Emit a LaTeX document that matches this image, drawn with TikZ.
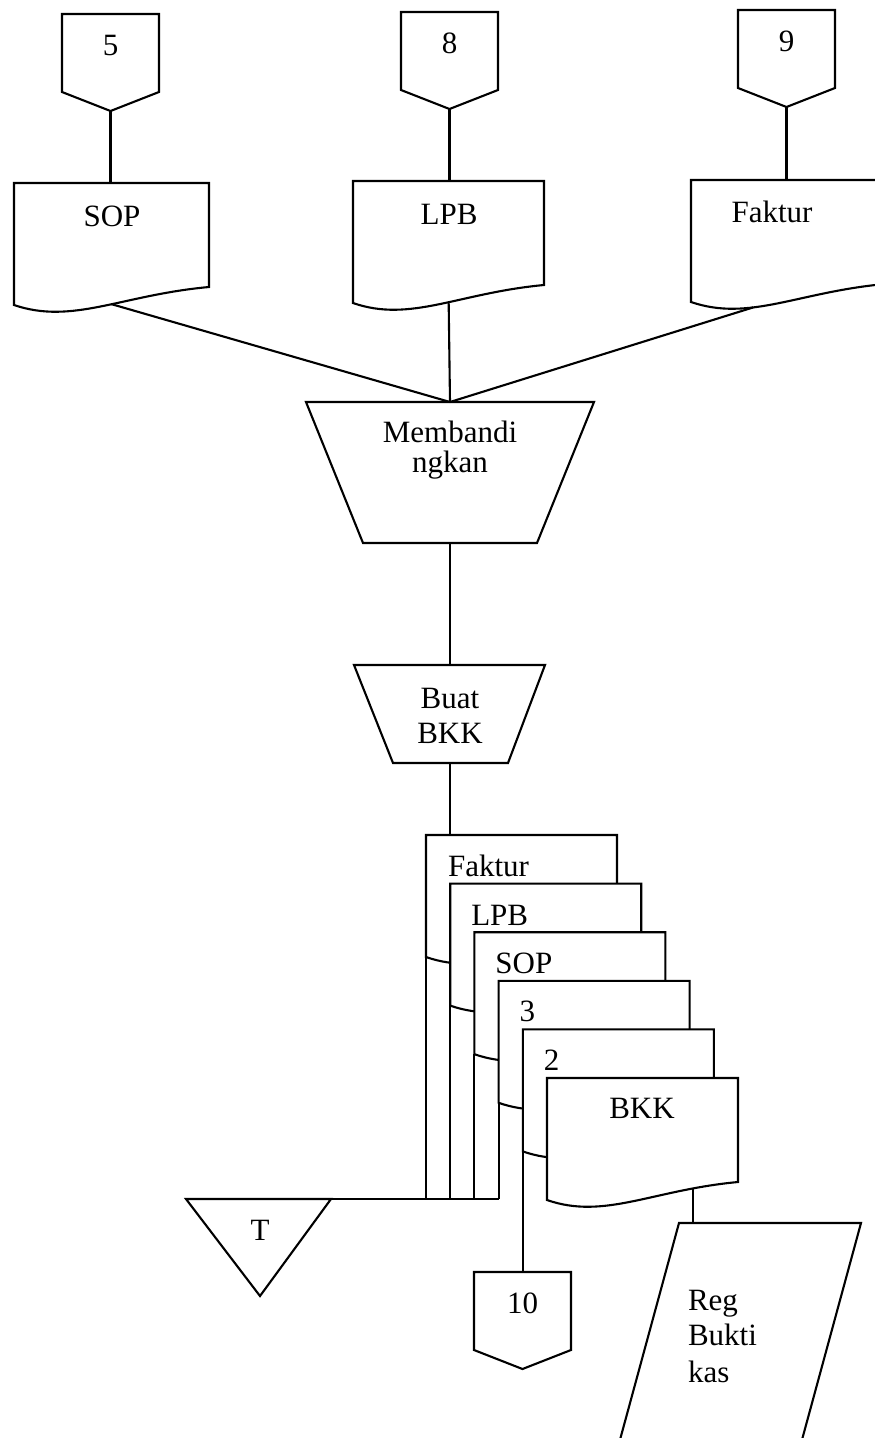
\documentclass[tikz,border=0pt]{standalone}
\usepackage{fontspec}
\setmainfont{Liberation Serif}

% document symbol: name, left, top, width, position of the attach point on the wavy edge
\newcommand\flowdoc[5]{%
  \draw[symb] (#2,#3) coordinate (#1-nw) -- ({#2+#4},#3) coordinate (#1-ne)
    -- ({#2+#4},{#3+104}) coordinate (#1-se)
    .. controls ({#2+0.55*#4},{#3+112}) and ({#2+0.3*#4},{#3+142}) .. ({#2},{#3+122})
    coordinate[pos=#5] (#1-w) coordinate (#1-sw) -- cycle;
}
% off-page connector: name, left, top, label
\newcommand\offpage[4]{%
  \draw[symb] (#2,#3) -- ({#2+97},#3) -- ({#2+97},{#3+78})
    -- ({#2+48.5},{#3+97}) coordinate (#1-s) -- (#2,{#3+78}) -- cycle;
  \coordinate (#1-n) at ({#2+48.5},#3);
  \node[lbl, anchor=base] (#1) at ({#2+48.5},{#3+41}) {#4};
}

\begin{document}
\begin{tikzpicture}[x=1pt, y=-1pt, line width=2.1pt, line join=miter,
  lbl/.style={font=\fontsize{31}{35}\selectfont, inner sep=0pt},
  symb/.style={draw, fill=white}]
\useasboundingbox (0,0) rectangle (875,1438);
\clip (0,0) rectangle (875,1438);

% incoming connectors and source documents
\offpage{five}{62}{14}{5}
\offpage{eight}{401}{12}{8}
\offpage{nine}{738}{10}{9}

\flowdoc{sop}{14}{183}{195}{0.44}
\flowdoc{lpb}{353}{181}{191}{0.44}
\flowdoc{fak}{691}{180}{194}{0.635}
\node[lbl, anchor=base] (sopt) at (112,226) {SOP};
\node[lbl, anchor=base] (lpbt) at (449,224) {LPB};
\node[lbl, anchor=base] (fakt) at (772,222) {Faktur};

\draw (five-s) -- (five-s |- sop-nw);
\draw (eight-s) -- (eight-s |- lpb-nw);
\draw (nine-s) -- (nine-s |- fak-nw);

% compare operation
\draw[symb] (306,402) -- (594,402) -- (537,543) -- (363,543) -- cycle;
\coordinate (cmp-n) at (450,402);
\coordinate (cmp-s) at (450,543);
\node[lbl, anchor=base] (cmpa) at (450,442) {Membandi};
\node[lbl, anchor=base] (cmpb) at (450,472) {ngkan};

\draw (sop-w) -- (cmp-n);
\draw (lpb-w) -- (cmp-n);
\draw (fak-w) -- (cmp-n);

% make BKK operation
\draw[symb] (354,665) -- (545,665) -- (508,763) -- (393,763) -- cycle;
\coordinate (buat-n) at (450,665);
\coordinate (buat-s) at (450,763);
\node[lbl, anchor=base] (buata) at (450,708) {Buat};
\node[lbl, anchor=base] (buatb) at (450,743) {BKK};
\draw (cmp-s) -- (buat-n);

% stacked output documents
\flowdoc{da}{426}{835}{191}{0.5}
\flowdoc{db}{450.2}{883.6}{191}{0.5}
\flowdoc{dc}{474.4}{932.2}{191}{0.5}
\flowdoc{dd}{498.6}{980.8}{191}{0.5}
\flowdoc{de}{522.8}{1029.4}{191}{0.5}
\flowdoc{df}{547}{1078}{191}{0.19}
\node[lbl, anchor=base west] (dat) at (447,876) {Faktur};
\node[lbl, anchor=base west] (dbt) at (470.2,925) {LPB};
\node[lbl, anchor=base west] (dct) at (494.4,973) {SOP};
\node[lbl, anchor=base west] (ddt) at (518.6,1021) {3};
\node[lbl, anchor=base west] (det) at (542.8,1070) {2};
\node[lbl, anchor=base] (dft) at (642,1118) {BKK};

\draw (buat-s) -- (buat-s |- da-nw);

% file T
\draw[symb] (186,1199) coordinate (tank-nw) -- (331,1199) coordinate (tank-ne)
  -- (260,1296) -- cycle;
\node[lbl, anchor=base] (tank) at (260,1240) {T};
\draw (tank-ne) -- (dd-sw |- tank-ne);
\draw (da-sw) -- (da-sw |- tank-ne);
\draw (db-sw) -- (db-sw |- tank-ne);
\draw (dc-sw) -- (dc-sw |- tank-ne);
\draw (dd-sw) -- (dd-sw |- tank-ne);

% connector 10
\offpage{ten}{474}{1272}{10}
\draw (de-sw) -- (de-sw |- ten-n);

% register of cash vouchers
\draw[symb] (679,1223) coordinate (reg-nw) -- (861,1223) -- (796.5,1460) -- (614.5,1460) -- cycle;
\node[lbl, anchor=base west] (rega) at (687,1310) {Reg};
\node[lbl, anchor=base west] (regb) at (687,1345) {Bukti};
\node[lbl, anchor=base west] (regc) at (687,1382) {kas};
\draw (df-w) -- (df-w |- reg-nw);
\end{tikzpicture}
\end{document}
